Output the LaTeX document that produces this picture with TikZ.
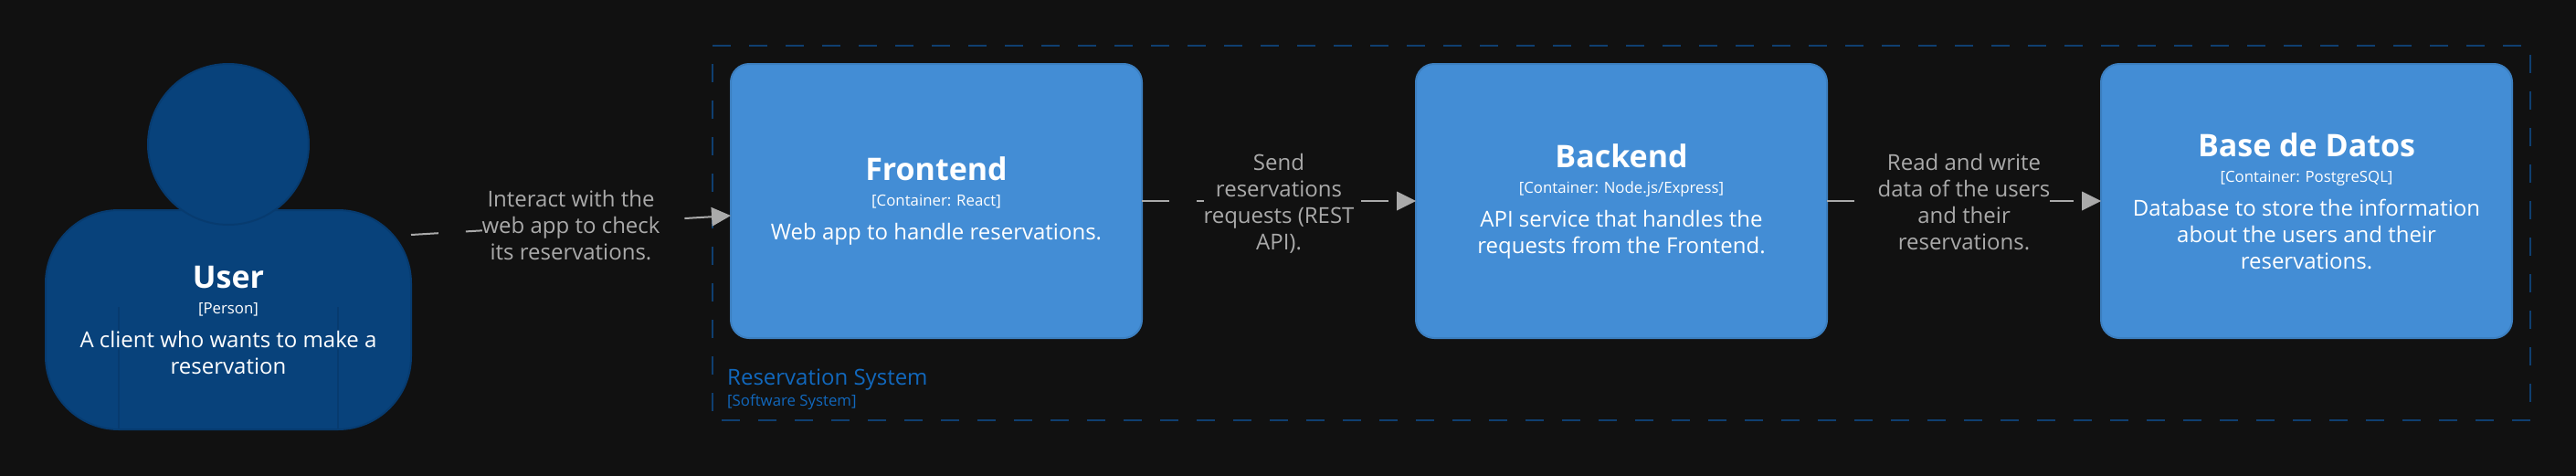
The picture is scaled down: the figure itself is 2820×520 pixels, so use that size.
\documentclass[tikz,border=0pt]{standalone}
\usepackage{fontspec}
\setmainfont{Open Sans}
\usepackage{xcolor}
\usetikzlibrary{positioning,arrows.meta}
\definecolor{pagebg}{HTML}{111111}
\definecolor{personblue}{HTML}{08427B}
\definecolor{personline}{HTML}{073B6F}
\definecolor{boxblue}{HTML}{438DD5}
\definecolor{boxline}{HTML}{3C7FC0}
\definecolor{sysdash}{HTML}{0F3F70}
\definecolor{systext}{HTML}{1168BD}
\definecolor{relgray}{HTML}{AAAAAA}
\newcommand{\boxtext}[3]{{\fontsize{34}{34}\selectfont\bfseries #1\par}{\fontsize{16.8}{28}\selectfont #2\par}\vspace{8pt}{\fontsize{24}{29}\selectfont #3\par}}
\tikzset{
  container/.style={draw=boxline, fill=boxblue, line width=2pt, rounded corners=20pt, minimum width=450pt, minimum height=300pt, inner sep=0pt, outer sep=0pt, text=white, text width=430pt, align=flush center},
  person/.style={draw=personline, fill=personblue, line width=2pt, outer sep=0pt},
  rel/.style={draw=relgray, line width=2pt, dash pattern=on 30pt off 30pt, -{Triangle[length=21pt,width=21pt,line width=0pt,fill=relgray]}},
  rellabel/.style={fill=pagebg, text=relgray, inner sep=0pt, align=center, font=\fontsize{24}{29}\selectfont},
  sysline/.style={draw=sysdash, line width=2pt, dash pattern=on 20pt off 20pt}
}
\begin{document}
\begin{tikzpicture}[x=1pt, y=-1pt]
\useasboundingbox (0,0) rectangle (2820,520);
\fill[pagebg] (-2,-2) rectangle (2822,522);
\draw[sysline] (780,50) -- (2770,50) -- (2770,460) -- (780,460) -- cycle;
\node (U) [person, rounded corners=80pt, minimum width=400pt, minimum height=240pt] at (250,350) {};
  \draw[draw=personline, line width=1.5pt] ([xshift=-120pt]U.south) -- +(0,-134);
  \draw[draw=personline, line width=1.5pt] ([xshift=120pt]U.south) -- +(0,-134);
\node (H) [person, circle, minimum size=176pt, inner sep=0pt] at (250,158) {};
\node (Utext) [text=white, text width=380pt, align=flush center, inner sep=0pt] at (U.center) {\boxtext{User}{[Person]}{A client who wants to make a\\reservation}};
\node (F) [container] at (1025,220) {\boxtext{Frontend}{[Container: React]}{Web app to handle reservations.}};
  \node (B) [container, right=300pt of F] {\boxtext{Backend}{[Container: Node.js/Express]}{API service that handles the\\requests from the Frontend.}};
  \node (D) [container, right=300pt of B] {\boxtext{Base de Datos}{[Container: PostgreSQL]}{Database to store the information\\about the users and their\\reservations.}};
\node (S) [anchor=west, text=systext, inner sep=0pt, font=\fontsize{24}{29}\selectfont] at (796,416) {Reservation System};
  \node (St) [anchor=west, text=systext, inner sep=0pt, font=\fontsize{16.8}{20}\selectfont] at (796,440) {[Software System]};
   \draw[rel] ([yshift=93pt]U.east) to node [rellabel] {Interact with the\\web app to check\\its reservations.} ([yshift=-16pt]F.west);
   \draw[rel] (F) to node [rellabel, yshift=-3pt] {Send\\reservations\\requests (REST\\API).} (B);
   \draw[rel] (B) to node [rellabel, yshift=-1pt] {Read and write\\data of the users\\and their\\reservations.} (D);
\end{tikzpicture}
\end{document}
